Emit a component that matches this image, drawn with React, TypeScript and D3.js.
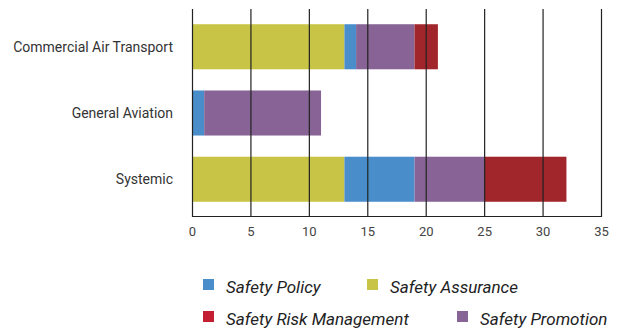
import React from "react";
import * as d3 from "d3";

const categories = ["Commercial Air Transport", "General Aviation", "Systemic"];
const seriesNames = ["Safety Assurance", "Safety Policy", "Safety Promotion", "Safety Risk Management"];
const assurance = [13, 0, 13];
const policy = [1, 1, 6];
const promotion = [5, 10, 6];
const riskManagement = [2, 0, 7];
const xTicks = [0, 5, 10, 15, 20, 25, 30, 35];

const barColors: Record<string, string> = {
  "Safety Assurance": "#C8C446",
  "Safety Policy": "#4A8DCB",
  "Safety Promotion": "#876495",
  "Safety Risk Management": "#A0262B",
};
const legendColors: Record<string, string> = {
  "Safety Policy": "#4A8DCB",
  "Safety Assurance": "#C8C446",
  "Safety Risk Management": "#C41E32",
  "Safety Promotion": "#876495",
};
const legendRows = [
  ["Safety Policy", "Safety Assurance"],
  ["Safety Risk Management", "Safety Promotion"],
];

const W = 617;
const H = 329;
const FONT = "Roboto, 'DejaVu Sans', sans-serif";

export default function App() {
  const rows = categories.map((c, i) => ({
    category: c,
    "Safety Assurance": assurance[i],
    "Safety Policy": policy[i],
    "Safety Promotion": promotion[i],
    "Safety Risk Management": riskManagement[i],
  }));
  const stacked = d3.stack<any>().keys(seriesNames)(rows);

  const x = d3.scaleLinear().domain([0, 35]).range([192.5, 601.5]);
  const y = d3
    .scaleBand<string>()
    .domain(categories)
    .range([9, 217])
    .paddingInner(0.32)
    .paddingOuter(0.23);

  const legendX = [203, 367];
  const legendX2 = [203, 457];
  const legendY = [279, 311];

  return (
    <div style={{ position: "absolute", left: 0, top: 0 }}>
      <svg width={W} height={H} style={{ display: "block", background: "#fff" }}>
        {stacked.map((s) =>
          s.map((d, i) => (
            <rect
              key={s.key + i}
              x={x(d[0])}
              width={x(d[1]) - x(d[0])}
              y={y(categories[i])}
              height={y.bandwidth()}
              fill={barColors[s.key]}
            />
          ))
        )}
        {xTicks.map((t) => (
          <line key={t} x1={x(t)} x2={x(t)} y1={9} y2={217} stroke="#222" strokeWidth={1.2} />
        ))}
        <line x1={x(0)} x2={x(35)} y1={216.5} y2={216.5} stroke="#222" strokeWidth={1.2} />
        {xTicks.map((t) => (
          <text
            key={"l" + t}
            x={x(t)}
            y={236}
            textAnchor="middle"
            fontFamily={FONT}
            fontSize={13}
            fill="#444"
          >
            {t}
          </text>
        ))}
        {categories.map((c) => (
          <text
            key={c}
            x={173}
            y={(y(c) as number) + y.bandwidth() / 2 + 5}
            textAnchor="end"
            fontFamily={FONT}
            fontSize={14}
            fill="#333"
          >
            {c}
          </text>
        ))}
        {legendRows.map((row, r) =>
          row.map((name, k) => {
            const lx = r === 0 ? legendX[k] : legendX2[k];
            return (
              <g key={name}>
                <rect x={lx} y={legendY[r]} width={11} height={11} fill={legendColors[name]} />
                <text
                  x={lx + 23}
                  y={legendY[r] + 14}
                  fontFamily={FONT}
                  fontStyle="italic"
                  fontSize={17}
                  fill="#222"
                >
                  {name}
                </text>
              </g>
            );
          })
        )}
      </svg>
    </div>
  );
}
